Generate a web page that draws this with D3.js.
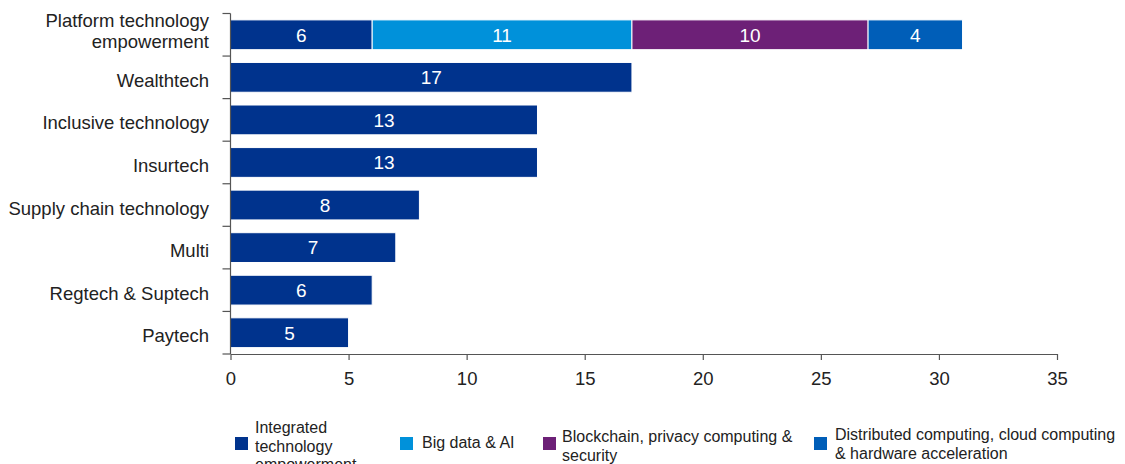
<!DOCTYPE html>
<html>
<head>
<meta charset="utf-8">
<script src="https://cdn.jsdelivr.net/npm/d3@7"></script>
<style>
  html, body { margin: 0; padding: 0; background: #fff; }
  svg { display: block; font-family: "Liberation Sans", Arial, sans-serif; }
</style>
</head>
<body>
<svg id="chart" width="1125" height="464"></svg>
<script>
// Categories, top to bottom
const categories = [
  "Platform technology empowerment",
  "Wealthtech",
  "Inclusive technology",
  "Insurtech",
  "Supply chain technology",
  "Multi",
  "Regtech & Suptech",
  "Paytech"
];

// Series values per category
const integratedTech = [6, 17, 13, 13, 8, 7, 6, 5];
const bigDataAI      = [11, 0, 0, 0, 0, 0, 0, 0];
const blockchain     = [10, 0, 0, 0, 0, 0, 0, 0];
const distributed    = [4, 0, 0, 0, 0, 0, 0, 0];

const seriesNames = [
  "Integrated technology empowerment",
  "Big data & AI",
  "Blockchain, privacy computing & security",
  "Distributed computing, cloud computing & hardware acceleration"
];
const seriesValues = [integratedTech, bigDataAI, blockchain, distributed];
const seriesColors = ["#00338D", "#0091DA", "#6D2077", "#005EB8"];

const xTicks = [0, 5, 10, 15, 20, 25, 30, 35];

// Table for d3.stack
const rows = categories.map((c, i) => {
  const r = { category: c };
  seriesNames.forEach((s, j) => { r[s] = seriesValues[j][i]; });
  return r;
});
const stacked = d3.stack().keys(seriesNames)(rows);

const svg = d3.select("#chart");
const plotLeft = 230.5, plotRight = 1057, plotTop = 13.5, plotBottom = 354;

const x = d3.scaleLinear().domain([0, 35]).range([plotLeft, plotRight]);
const y = d3.scaleBand().domain(categories).range([plotTop, plotBottom])
  .paddingInner(0.3).paddingOuter(0.15);
const color = d3.scaleOrdinal().domain(seriesNames).range(seriesColors);

const axisColor = "#555";
const textColor = "#222";

// Bars
const layers = svg.append("g").selectAll("g")
  .data(stacked).join("g")
  .attr("fill", d => color(d.key));

layers.selectAll("rect")
  .data(d => d.filter(v => v[1] - v[0] > 0))
  .join("rect")
  .attr("x", v => x(v[0]))
  .attr("y", v => y(v.data.category))
  .attr("width", v => x(v[1]) - x(v[0]))
  .attr("height", y.bandwidth())
  .attr("stroke", "#fff")
  .attr("stroke-width", 1);

// Value labels inside segments
stacked.forEach(layer => {
  layer.forEach(v => {
    const val = v[1] - v[0];
    if (val <= 0) return;
    svg.append("text")
      .attr("x", (x(v[0]) + x(v[1])) / 2)
      .attr("y", y(v.data.category) + y.bandwidth() / 2)
      .attr("dy", "0.36em")
      .attr("text-anchor", "middle")
      .attr("fill", "#fff")
      .attr("font-size", 19)
      .text(val);
  });
});

// Vertical axis with ticks at band boundaries
const gy = svg.append("g").attr("stroke", axisColor).attr("stroke-width", 1.2);
const step = y.step();
gy.append("line").attr("x1", plotLeft).attr("x2", plotLeft).attr("y1", plotTop).attr("y2", plotBottom);
d3.range(categories.length + 1).forEach(k => {
  const yy = plotTop + k * step;
  gy.append("line").attr("x1", plotLeft - 8).attr("x2", plotLeft).attr("y1", yy).attr("y2", yy);
});

// Category labels
const labelLines = {
  "Platform technology empowerment": ["Platform technology", "empowerment"]
};
categories.forEach(c => {
  const cy = y(c) + y.bandwidth() / 2;
  const t = svg.append("text")
    .attr("text-anchor", "end")
    .attr("fill", textColor)
    .attr("font-size", 18.5);
  if (labelLines[c]) {
    const lines = labelLines[c];
    t.append("tspan").attr("x", 209).attr("y", cy - 7.5).text(lines[0]);
    t.append("tspan").attr("x", 209).attr("y", cy + 13.5).text(lines[1]);
  } else {
    t.attr("x", 209).attr("y", cy + 9.5).text(c);
  }
});

// Horizontal axis
const gx = svg.append("g")
  .attr("transform", `translate(0,${plotBottom})`)
  .call(d3.axisBottom(x).tickValues(xTicks).tickSize(6).tickSizeOuter(0).tickFormat(d3.format("d")));
gx.select(".domain").attr("stroke", axisColor).attr("stroke-width", 1.2);
gx.selectAll(".tick line").attr("stroke", axisColor).attr("stroke-width", 1.2);
gx.selectAll(".tick text")
  .attr("y", 31).attr("dy", 0)
  .attr("fill", textColor)
  .attr("font-size", 18.5)
  .attr("font-family", "Liberation Sans, Arial, sans-serif");

// Legend
const legendItems = [
  { sx: 235, tx: 255, lines: ["Integrated", "technology", "empowerment"], y0: 433 },
  { sx: 400, tx: 422, lines: ["Big data & AI"], y0: 448 },
  { sx: 543, tx: 562, lines: ["Blockchain, privacy computing &", "security"], y0: 442 },
  { sx: 814, tx: 835, lines: ["Distributed computing, cloud computing", "& hardware acceleration"], y0: 440 }
];
const lg = svg.append("g");
legendItems.forEach((it, i) => {
  lg.append("rect")
    .attr("x", it.sx).attr("y", 437)
    .attr("width", 13).attr("height", 13)
    .attr("fill", seriesColors[i]);
  const t = lg.append("text").attr("fill", textColor).attr("font-size", 16);
  it.lines.forEach((ln, k) => {
    t.append("tspan").attr("x", it.tx).attr("y", it.y0 + k * 18.5).text(ln);
  });
});
</script>
</body>
</html>
